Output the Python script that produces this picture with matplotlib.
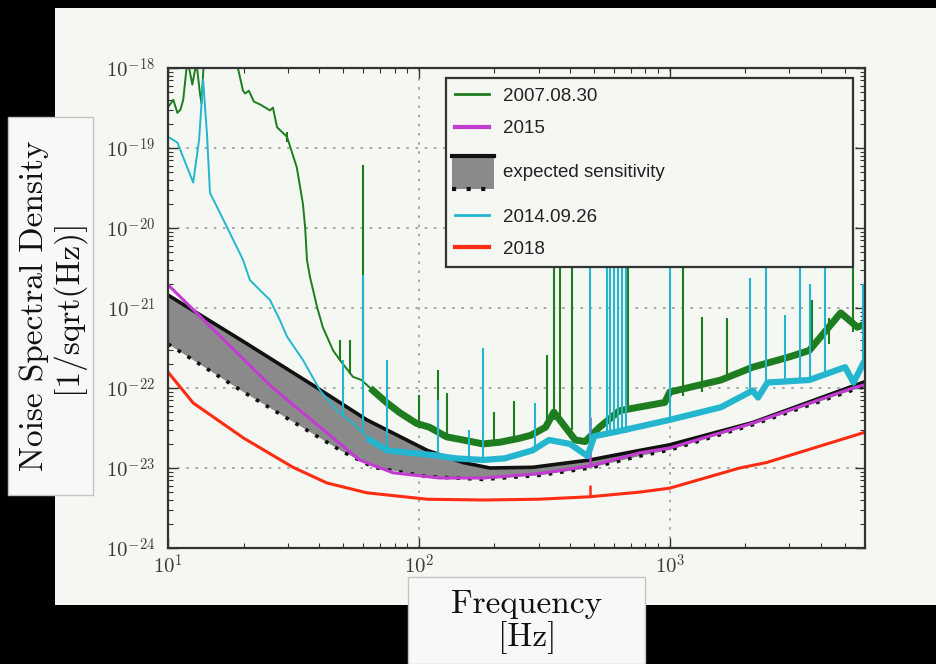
import numpy as np
import matplotlib
matplotlib.use('Agg')
import matplotlib.pyplot as plt
from matplotlib.patches import Rectangle
from matplotlib.lines import Line2D
from matplotlib.legend_handler import HandlerBase
from matplotlib import ticker

plt.rcParams['mathtext.fontset'] = 'cm'

# ---- data (frequency in Hz, noise in 1/sqrt(Hz)) ----
# expected sensitivity band: upper (solid black) and lower (dashed) bounds
exp_hi_f = [10, 20, 39, 62, 108, 150, 192, 284, 480, 760, 1000, 2140, 5560, 6000]
exp_hi_v = [1.45e-21, 3.8e-22, 1.02e-22, 4.0e-23, 1.66e-23, 1.17e-23, 1.0e-23,
            1.02e-23, 1.26e-23, 1.66e-23, 1.95e-23, 3.7e-23, 1.1e-22, 1.2e-22]
exp_lo_f = [10, 20, 50, 66, 108, 180, 303, 480, 760, 1000, 2140, 5360, 6000]
exp_lo_v = [3.55e-22, 8.9e-23, 1.58e-23, 1.02e-23, 7.8e-24, 7.2e-24, 8.1e-24,
            1.0e-23, 1.41e-23, 1.68e-23, 3.47e-23, 9.4e-23, 1.05e-22]

# 2015
mag_f = [10, 26, 43, 58, 79, 121, 180, 300, 480, 760, 1000, 2140, 5360, 6000]
mag_v = [1.95e-21, 1.02e-22, 2.75e-23, 1.26e-23, 8.7e-24, 7.5e-24, 7.5e-24,
         8.5e-24, 1.06e-23, 1.55e-23, 1.78e-23, 3.63e-23, 1.0e-22, 1.1e-22]
mag_spike = [480, 1.06e-23, 4.4e-23]

# 2018
red_f = [10, 12.6, 20, 31.5, 43, 62, 108, 180, 300, 480, 760, 1000, 1900, 2430, 5890, 6000]
red_v = [1.58e-22, 6.5e-23, 2.37e-23, 1.02e-23, 6.5e-24, 4.9e-24, 4.07e-24, 3.98e-24,
         4.07e-24, 4.37e-24, 5.0e-24, 5.6e-24, 1.0e-23, 1.17e-23, 2.75e-23, 2.8e-23]
red_spike = [480, 4.37e-24, 6.2e-24]

# 2007.08.30
green_f = [10, 10.5, 10.9, 11.2, 11.5, 11.9, 12.2, 12.5, 12.8, 13.0, 13.4, 13.6, 13.9,
           16, 18.5, 19.0, 19.9, 20.3, 21.0, 22.0, 23.3, 25.5, 26.2, 27.2, 29.8, 32.6,
           34.5, 35.2, 35.8, 36.8, 39.3, 41.4, 45.5, 48.4, 54.6, 59, 65.6, 74.7, 84,
           98, 110, 129, 150, 180, 210, 250, 280, 320, 345, 375, 420, 460, 525, 630,
           955, 1000, 1600, 2140, 3000, 3600, 4800, 5600, 6000]
green_v = [3.24e-19, 4.0e-19, 2.75e-19, 3.0e-19, 4.0e-19, 1.12e-18, 9.3e-19, 6.2e-19,
           9.3e-19, 1.12e-18, 4.9e-19, 3.6e-19, 1.26e-18, 3e-18, 2e-18, 1.0e-18, 5.2e-19,
           4.8e-19, 5.2e-19, 3.8e-19, 3.5e-19, 2.95e-19, 3.2e-19, 1.82e-19, 1.38e-19,
           5.75e-20, 2.0e-20, 1.02e-20, 4.0e-21, 2.45e-21, 1.02e-21, 5.75e-22, 2.95e-22,
           2.24e-22, 1.38e-22, 1.26e-22, 9.3e-23, 6.5e-23, 4.9e-23, 3.6e-23, 3.24e-23,
           2.45e-23, 2.24e-23, 2.0e-23, 2.1e-23, 2.34e-23, 2.57e-23, 3.24e-23, 5.0e-23,
           3.55e-23, 2.24e-23, 2.14e-23, 3.24e-23, 5.2e-23, 6.6e-23, 8.9e-23, 1.26e-22,
           1.82e-22, 2.45e-22, 2.95e-22, 8.7e-22, 5.75e-22, 6.3e-22]
green_spike_f = [29.8, 48.4, 53, 60, 100, 119, 129, 200, 240, 325, 345, 365, 407,
                 681, 1127, 1340, 1690, 3680, 4330, 5360]
green_spike_lo = [1.2e-19, 2.2e-22, 1.5e-22, 1.26e-22, 3.6e-23, 3.2e-23, 2.5e-23, 2.1e-23,
                  2.3e-23, 3.2e-23, 4e-23, 4e-23, 3e-23, 5.5e-23, 8e-23, 9e-23, 1.26e-22,
                  2.9e-22, 3.5e-22, 5e-22]
green_spike_hi = [1.58e-19, 4.0e-22, 4.0e-22, 6.2e-20, 8.1e-23, 1.66e-22, 8.7e-23, 5.0e-23,
                  6.8e-23, 2.57e-22, 1e-20, 1e-20, 1e-20, 1e-20, 1e-20, 7.7e-22, 7.6e-22,
                  1.26e-21, 7.6e-22, 1e-20]

# 2014.09.26
cyan_f = [10, 10.9, 12.6, 13.3, 13.8, 14.3, 14.7, 17.2, 19.9, 21.2, 23.3, 25.5, 27.9,
          29.8, 34.5, 40.4, 47.2, 55, 63.8, 74.7, 92, 114, 140, 180, 220, 284, 330,
          400, 470, 500, 600, 1000, 1600, 2140, 2250, 2450, 3600, 5000, 5400, 6000]
cyan_v = [1.38e-19, 1.17e-19, 3.7e-20, 1.26e-19, 7.1e-19, 1.5e-19, 2.75e-20, 1.02e-20,
          4.0e-21, 2.24e-21, 1.66e-21, 1.26e-21, 7.1e-22, 4.4e-22, 2.24e-22, 9.3e-23,
          5.2e-23, 3.55e-23, 2.24e-23, 1.66e-23, 1.55e-23, 1.45e-23, 1.32e-23, 1.26e-23,
          1.32e-23, 1.66e-23, 2.24e-23, 2.0e-23, 1.41e-23, 2.5e-23, 2.8e-23, 4.0e-23,
          5.75e-23, 9.3e-23, 7.6e-23, 1.17e-22, 1.26e-22, 1.82e-22, 1.17e-22, 2.24e-22]
cyan_spike_f = [49.8, 60, 74.7, 119, 159, 180, 290, 480, 560, 580, 600, 620, 645, 670,
                1000, 2085, 2420, 2880, 3310, 3630, 4170, 5900]
cyan_spike_lo = [4.5e-23, 2.8e-23, 1.66e-23, 1.4e-23, 1.3e-23, 1.26e-23, 1.7e-23, 1.4e-23,
                 2.7e-23, 2.7e-23, 2.7e-23, 2.7e-23, 2.7e-23, 2.7e-23, 4e-23, 9e-23,
                 1.1e-22, 1.2e-22, 1.2e-22, 1.26e-22, 1.4e-22, 2e-22]
cyan_spike_hi = [2.24e-22, 2.6e-21, 2.24e-22, 7e-23, 2.95e-23, 3.2e-22, 6.5e-23, 1e-20,
                 1e-20, 1e-20, 1e-20, 1e-20, 1e-20, 1e-20, 1e-20, 2.4e-21, 1e-20, 8.1e-22,
                 1e-20, 2.0e-21, 1e-20, 2.0e-21]

xtick_vals = [10, 100, 1000]
xtick_labels = [r'$10^{1}$', r'$10^{2}$', r'$10^{3}$']
ytick_vals = [1e-24, 1e-23, 1e-22, 1e-21, 1e-20, 1e-19, 1e-18]
ytick_labels = [r'$10^{-24}$', r'$10^{-23}$', r'$10^{-22}$', r'$10^{-21}$',
                r'$10^{-20}$', r'$10^{-19}$', r'$10^{-18}$']

legend_labels = ['2007.08.30', '2015', 'expected sensitivity', '2014.09.26', '2018']

# ---- colours ----
panel = '#f4f7f2'
c_green = '#1e7d1e'
c_mag = '#c23cd2'
c_cyan = '#24b6cf'
c_red = '#ff2c12'
c_gray = '#8a8a8a'


class BandHandler(HandlerBase):
    # gray box with solid top edge and dotted bottom edge
    def create_artists(self, legend, orig_handle, xdescent, ydescent,
                       width, height, fontsize, trans):
        x0 = -xdescent - 0.1 * width
        w = width * 1.25
        y0 = -ydescent - 0.75 * height
        h = height * 2.5
        rect = Rectangle((x0, y0), w, h, facecolor=c_gray, edgecolor='none',
                         transform=trans)
        top = Line2D([x0, x0 + w], [y0 + h, y0 + h], color='#111', lw=3,
                     transform=trans)
        bot = Line2D([x0, x0 + w], [y0, y0], color='#111', lw=3,
                     linestyle=(0, (1, 2.5)), transform=trans)
        return [rect, top, bot]


fig = plt.figure(figsize=(9.36, 6.64), dpi=100, facecolor='black')

# slide panel
fig.add_artist(Rectangle((55 / 936, 1 - 605 / 664), 1 - 55 / 936, 597 / 664,
                         transform=fig.transFigure, facecolor=panel,
                         edgecolor='none', zorder=0))

ax = fig.add_axes([168 / 936, 1 - 548 / 664, 697 / 936, 480 / 664])
ax.set_facecolor(panel)
ax.set_xscale('log')
ax.set_yscale('log')

# 2007.08.30 (thin at low frequency, noisy band above ~60 Hz)
gf = np.array(green_f)
gv = np.array(green_v)
ax.plot(gf, gv, color=c_green, lw=1.4, zorder=2)
ax.plot(gf[gf >= 60], gv[gf >= 60], color=c_green, lw=5, zorder=2)
ax.vlines(green_spike_f, green_spike_lo, green_spike_hi, color=c_green, lw=1.5, zorder=2)

# expected sensitivity band
band = ax.fill(np.r_[exp_hi_f, exp_lo_f[::-1]], np.r_[exp_hi_v, exp_lo_v[::-1]],
               facecolor=c_gray, edgecolor='none', zorder=2.1)[0]
ax.plot(exp_hi_f, exp_hi_v, color='#111', lw=2.6, zorder=2.2)
ax.plot(exp_lo_f, exp_lo_v, color='#111', lw=2.6, linestyle=(0, (1, 2.2)), zorder=2.2)

# 2015
ax.plot(mag_f, mag_v, color=c_mag, lw=2.2, zorder=2.3)
ax.vlines(mag_spike[0], mag_spike[1], mag_spike[2], color=c_mag, lw=1.8, zorder=2.3)

# 2014.09.26
cf = np.array(cyan_f)
cv = np.array(cyan_v)
ax.plot(cf, cv, color=c_cyan, lw=1.4, zorder=2.4)
ax.plot(cf[cf >= 60], cv[cf >= 60], color=c_cyan, lw=4.5, zorder=2.4)
ax.vlines(cyan_spike_f, cyan_spike_lo, cyan_spike_hi, color=c_cyan, lw=1.5, zorder=2.4)

# 2018
ax.plot(red_f, red_v, color=c_red, lw=2.2, zorder=2.5)
ax.vlines(red_spike[0], red_spike[1], red_spike[2], color=c_red, lw=1.8, zorder=2.5)

ax.set_xlim(10, 6000)
ax.set_ylim(1e-24, 1e-18)

ax.set_xticks(xtick_vals)
ax.set_xticklabels(xtick_labels)
ax.set_yticks(ytick_vals)
ax.set_yticklabels(ytick_labels)
ax.xaxis.set_minor_locator(ticker.LogLocator(base=10, subs=np.arange(2, 10), numticks=100))
ax.yaxis.set_minor_locator(ticker.LogLocator(base=10, subs=np.arange(2, 10), numticks=100))
ax.xaxis.set_minor_formatter(ticker.NullFormatter())
ax.yaxis.set_minor_formatter(ticker.NullFormatter())
ax.tick_params(which='both', direction='in', top=True, right=True, color='#333',
               labelcolor='#3c3c3c', labelsize=15)
ax.tick_params(which='major', length=7, width=1)
ax.tick_params(which='minor', length=3.5, width=0.8)
ax.tick_params(axis='x', pad=4)
ax.tick_params(axis='y', pad=9)
for s in ax.spines.values():
    s.set_linewidth(1.6)
    s.set_color('#333')

ax.set_axisbelow(True)
ax.grid(True, which='major', color='#9a9a9a', linestyle=(0, (1.5, 4)), lw=1.2)

# legend
handles = [Line2D([], [], color=c_green, lw=2),
           Line2D([], [], color=c_mag, lw=3),
           band,
           Line2D([], [], color=c_cyan, lw=2),
           Line2D([], [], color=c_red, lw=3)]
leg = ax.legend(handles, legend_labels, loc='upper left',
                bbox_to_anchor=(0.399, 0.979, 0.584, 0), mode='expand',
                borderaxespad=0, prop={'family': 'Liberation Sans', 'size': 13.5},
                frameon=True, fancybox=False, edgecolor='#333', facecolor=panel,
                framealpha=1, handlelength=1.8, handletextpad=0.75,
                labelspacing=0.82, borderpad=0.5,
                handler_map={band: BandHandler()})
leg.get_frame().set_linewidth(1.6)
for t in leg.get_texts():
    t.set_color('#222')
# the band entry is a taller row
band_text = leg.get_texts()[2]
band_text.set_text('\n' + legend_labels[2] + '\n')
band_text.set_linespacing(0.6)

# axis label boxes
fig.add_artist(Rectangle((8 / 936, 1 - 495 / 664), 85 / 936, 378 / 664,
                         transform=fig.transFigure, facecolor='#f8f9f7',
                         edgecolor='#c4c4c4', lw=1, zorder=3))
fig.text(52 / 936, 1 - 306 / 664, 'Noise Spectral Density\n[1/sqrt(Hz)]',
         rotation=90, ha='center', va='center', multialignment='center',
         family='cmr10', fontsize=24, linespacing=1.05, color='#111', zorder=4)

fig.add_artist(Rectangle((408 / 936, 0), 237 / 936, 87 / 664,
                         transform=fig.transFigure, facecolor='#f8f9f7',
                         edgecolor='#c4c4c4', lw=1, zorder=3))
fig.text(527 / 936, 1 - 622 / 664, 'Frequency\n[Hz]', ha='center', va='center',
         multialignment='center', family='cmr10', fontsize=24, linespacing=1.05,
         color='#111', zorder=4)

fig.savefig('out.png', dpi=100, facecolor=fig.get_facecolor())
